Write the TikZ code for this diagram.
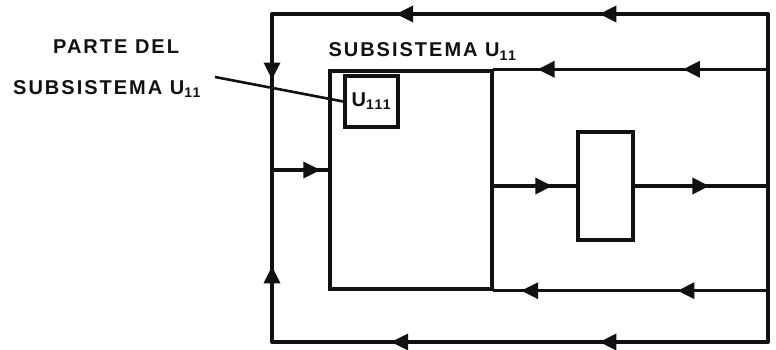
\documentclass[tikz,border=0pt]{standalone}
\usepackage{fontspec}
\setmainfont{Liberation Sans}
\usetikzlibrary{arrows.meta,positioning,decorations.markings}
\definecolor{ink}{HTML}{111111}
\tikzset{
  wire/.style={draw=ink, line width=3.4pt, line cap=round},
  leader/.style={draw=ink, line width=2.6pt},
  flowtip/.style={postaction={decorate, decoration={markings, mark=at position #1 with {\arrow{Triangle[length=17pt,width=16pt]}}}}},
  sysbox/.style={draw=ink, line width=3.4pt, inner sep=0pt},
  hand/.style={font=\bfseries\fontsize{20}{22}\selectfont\addfontfeature{LetterSpace=10}, text=ink, inner sep=0pt},
}

\begin{document}
\begin{tikzpicture}[x=1pt, y=-1pt]
  \useasboundingbox (0,0) rectangle (776,350);
  % blocks
  \node[sysbox, minimum width=162pt, minimum height=218pt] (subsys) at (411,180) {};
  \node[sysbox, hand, minimum width=53pt, minimum height=51pt] (part) at (371.5,101.5) {U\textsubscript{111}};
  \node[sysbox, minimum width=55pt, minimum height=108pt] (block) at (605.5,186) {};
  \node[hand, above right=9pt and 0pt of subsys.north west] (systitle) {SUBSISTEMA U\textsubscript{11}};
  % texts on the left
  \node[hand, anchor=west] (partlbl) at (53,47) {PARTE DEL};
  \node[hand, anchor=west] (sublbl) at (13,89) {SUBSISTEMA U\textsubscript{11}};
  % outer loop
  \coordinate (nw) at (272,14);
  \coordinate (ne) at (768,14);
  \coordinate (sw) at (272,342);
  \coordinate (se) at (768,342);
  \coordinate (feed) at (272,170);
  \coordinate (lead) at (215,77);
  \draw[wire] (ne) -- (se);
  \draw[wire, flowtip=0.34, flowtip=0.75] (ne) -- (nw);
  \draw[wire, flowtip=0.34, flowtip=0.76] (se) -- (sw);
  \draw[wire, flowtip=0.42] (nw) -- (feed);
  \draw[wire, flowtip=0.44] (sw) -- (feed);
  \draw[wire, flowtip=0.86] (feed) -- (feed -| subsys.west);
  % through the block
  \draw[wire, flowtip=0.71] (block.west -| subsys.east) -- (block.west);
  \draw[wire, flowtip=0.56] (block.east) -- (block.east -| ne);
  % returns to the subsystem
  \draw[wire, flowtip=0.31, flowtip=0.84] (subsys.north east -| ne) -- (subsys.north east);
  \draw[wire, flowtip=0.33, flowtip=0.90] (subsys.south east -| ne) -- (subsys.south east);
  \draw[leader] (lead) -- (part.west);
\end{tikzpicture}
\end{document}
